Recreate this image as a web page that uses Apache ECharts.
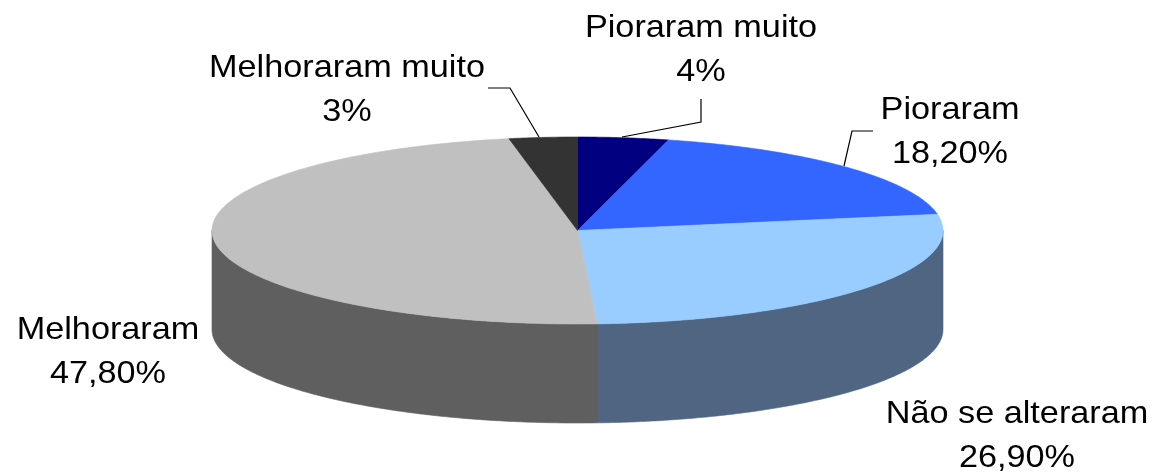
<!DOCTYPE html>
<html>
  <head>
    <meta charset="UTF-8">
    <title>Pie 3D</title>
    <script src="https://cdn.jsdelivr.net/npm/echarts@6/dist/echarts.min.js"></script>
  </head>
  <body style="margin:0;background:#fff;">
    <div id="myChart" style="width:1158px;height:472px;"></div>
    <script type="text/javascript">
    // data
    var categories = ['Pioraram muito', 'Pioraram', 'Não se alteraram', 'Melhoraram', 'Melhoraram muito'];
    var values = [4, 18.2, 26.9, 47.8, 3];
    var valueLabels = ['4%', '18,20%', '26,90%', '47,80%', '3%'];

    // styles
    var topColors = ['#000080', '#3366FF', '#99CCFF', '#C0C0C0', '#333333'];
    var sideColors = ['#00004D', '#1F3D99', '#4F6582', '#5F5F5F', '#1F1F1F'];

    // layout (pixels), label y = baseline of first line
    var cx = 577.5, cy = 230.5, rx = 365.5, ry = 93.5, depth = 99;
    var labelPos = [[701, 38], [950, 120], [1017, 424], [108, 340], [347, 78]];
    var leaders = [
      [[622, 137], [701, 122], [701, 99]],
      [[873, 131], [852, 131], [844, 166]],
      null,
      null,
      [[488, 88], [510, 88], [539, 137]]
    ];
    var lineGap = 44;

    var total = values.reduce(function (a, b) { return a + b; }, 0);
    var starts = [];
    var acc = 0;
    values.forEach(function (v) { starts.push(acc / total * Math.PI * 2); acc += v; });

    function pt(t, dy) {
      return [cx + rx * Math.sin(t), cy - ry * Math.cos(t) + dy];
    }
    function arc(a, b, dy) {
      var pts = [];
      var n = Math.max(2, Math.ceil((b - a) / 0.01));
      for (var i = 0; i <= n; i++) pts.push(pt(a + (b - a) * i / n, dy));
      return pts;
    }

    function renderItem(params, api) {
      var i = params.dataIndex;
      var a = starts[i];
      var b = a + api.value(1) / total * Math.PI * 2;
      var children = [];

      // front wall
      var s = Math.max(a, Math.PI / 2), e = Math.min(b, Math.PI * 1.5);
      if (s < e) {
        var wall = arc(s, e, 0).concat(arc(s, e, depth).reverse());
        children.push({
          type: 'polygon', z2: 1,
          shape: { points: wall },
          style: { fill: sideColors[i], stroke: sideColors[i], lineWidth: 0.6 }
        });
      }
      // top face
      children.push({
        type: 'polygon', z2: 2,
        shape: { points: [[cx, cy]].concat(arc(a, b, 0)) },
        style: { fill: topColors[i], stroke: topColors[i], lineWidth: 0.6 }
      });
      // leader line
      if (leaders[i]) {
        children.push({
          type: 'polyline', z2: 3,
          shape: { points: leaders[i] },
          style: { stroke: '#000', lineWidth: 1.2, fill: null }
        });
      }
      // labels
      var lines = [categories[i], valueLabels[i]];
      lines.forEach(function (txt, k) {
        children.push({
          type: 'text', z2: 4,
          x: labelPos[i][0], y: labelPos[i][1] - 26 + k * lineGap,
          scaleX: 1.07,
          style: {
            text: txt, x: 0, y: 0,
            fontSize: 32, fontFamily: 'Liberation Sans, Arial, sans-serif',
            fill: '#000', align: 'center', verticalAlign: 'top'
          }
        });
      });
      return { type: 'group', children: children };
    }

    var myChart = echarts.init(document.getElementById('myChart'));
    var option = {
      animation: false,
      series: [{
        type: 'custom',
        coordinateSystem: 'none',
        silent: true,
        renderItem: renderItem,
        data: values.map(function (v, i) { return [i, v]; })
      }]
    };
    myChart.setOption(option);
    </script>
  </body>
</html>
